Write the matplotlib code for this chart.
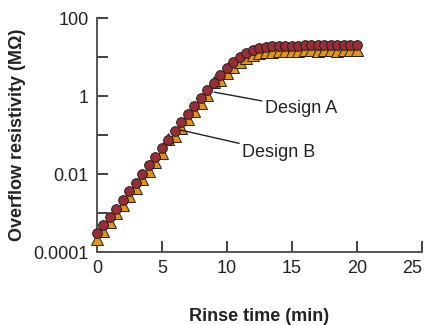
import matplotlib
matplotlib.use('Agg')
import matplotlib.pyplot as plt
from matplotlib.ticker import FixedLocator, FixedFormatter

plt.rcParams['font.family'] = ['Liberation Sans', 'DejaVu Sans']

# rinse time (min), one reading every half minute
rinse_time = [i * 0.5 for i in range(41)]

# overflow resistivity (MOhm)
design_a = [0.00030, 0.00048, 0.00079, 0.0013, 0.0022, 0.0036, 0.0060, 0.010,
            0.017, 0.028, 0.046, 0.076, 0.13, 0.21, 0.34, 0.55, 0.89, 1.4,
            2.2, 3.5, 5.2, 7.4, 10.0, 12.6, 14.8, 16.6, 17.8, 18.6, 19.0,
            19.3, 19.5, 19.5, 19.8, 20.0, 19.8, 20.0, 20.0, 19.8, 20.0, 20.0, 20.0]
design_b = [0.00022, 0.00035, 0.00059, 0.00098, 0.0016, 0.0027, 0.0045, 0.0074,
            0.012, 0.020, 0.034, 0.079, 0.093, 0.15, 0.25, 0.41, 0.66, 1.05,
            2.3, 2.6, 3.9, 5.5, 7.4, 9.3, 11.0, 12.3, 13.2, 13.8, 14.0,
            14.3, 14.5, 14.5, 14.8, 14.8, 14.5, 14.8, 14.8, 14.5, 14.8, 14.8, 14.8]

ytick_vals = [1e-4, 1e-3, 1e-2, 1e-1, 1, 10, 100]
ytick_text = ['0.0001', '', '0.01', '', '1', '', '100']
xtick_vals = [0, 5, 10, 15, 20, 25]

fig = plt.figure(figsize=(4.25, 3.25), dpi=100)
ax = fig.add_axes([0.228, 0.2246, 0.765, 0.72])

ax.plot(rinse_time, design_b, linestyle='none', marker='^', markersize=9,
        markerfacecolor='#e8930f', markeredgecolor='#222222', markeredgewidth=0.7,
        clip_on=False, zorder=3)
ax.plot(rinse_time, design_a, linestyle='none', marker='o', markersize=7,
        markerfacecolor='#9a2c36', markeredgecolor='#222222', markeredgewidth=0.7,
        clip_on=False, zorder=4)

ax.set_yscale('log')
ax.set_xlim(0, 25)
ax.set_ylim(1e-4, 100)

ax.yaxis.set_major_locator(FixedLocator(ytick_vals))
ax.yaxis.set_major_formatter(FixedFormatter(ytick_text))
ax.yaxis.set_minor_locator(FixedLocator([]))
ax.set_xticks(xtick_vals)

for side in ['top', 'right']:
    ax.spines[side].set_visible(False)
for side in ['left', 'bottom']:
    ax.spines[side].set_color('#555555')
    ax.spines[side].set_linewidth(1.4)

ax.tick_params(direction='in', length=8, width=1.3, color='#333333',
               labelsize=13, labelcolor='#222222', pad=6)
# last x label is kept inside the figure edge
ax.get_xticklabels()[-1].set_horizontalalignment('right')

ax.set_xlabel('Rinse time (min)', fontsize=13, fontweight='bold',
              color='#222222', labelpad=22)
ax.set_ylabel('Overflow resistivity (M\u03a9)', fontsize=13, fontweight='bold',
              color='#222222', labelpad=5)

ax.annotate('Design A', xy=(9.0, 1.26), xytext=(12.9, 0.49),
            fontsize=13, color='#222222', va='center', ha='left',
            arrowprops=dict(arrowstyle='-', color='#222222', lw=1.0,
                            shrinkA=0, shrinkB=0))
ax.annotate('Design B', xy=(6.4, 0.135), xytext=(11.15, 0.036),
            fontsize=13, color='#222222', va='center', ha='left',
            arrowprops=dict(arrowstyle='-', color='#222222', lw=1.0,
                            shrinkA=0, shrinkB=0))

fig.savefig('out.png', dpi=100)
